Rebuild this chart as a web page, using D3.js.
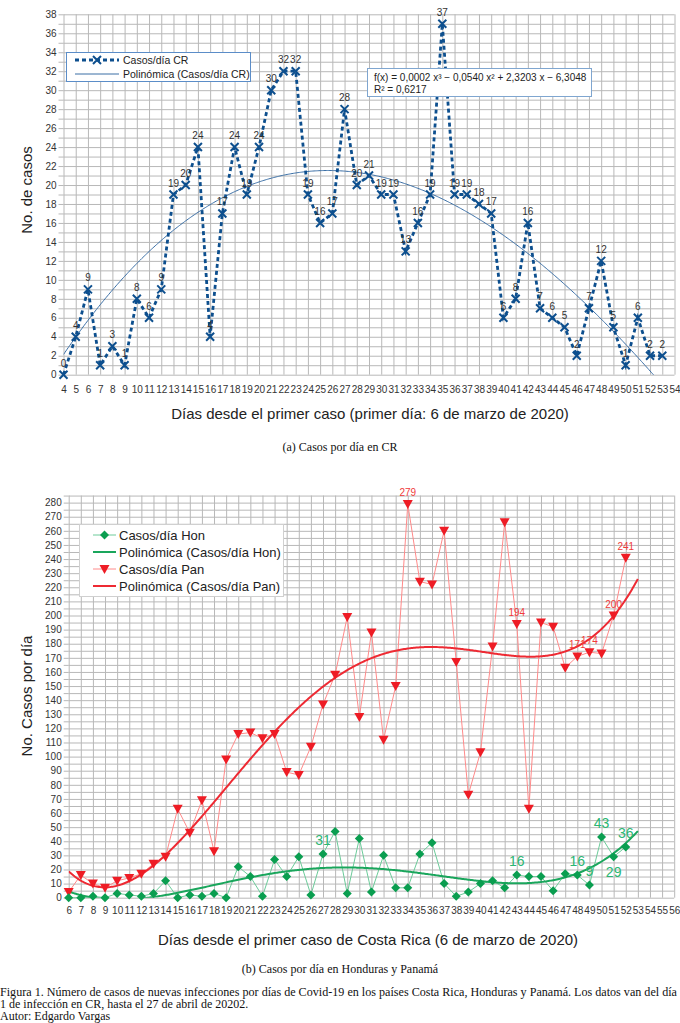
<!DOCTYPE html>
<html><head><meta charset="utf-8">
<script src="https://cdn.jsdelivr.net/npm/d3@7"></script>
<style>
body{margin:0;background:#fff}
svg{display:block}
text{font-family:"Liberation Sans",Arial,sans-serif}
.serif{font-family:"Liberation Serif","Times New Roman",serif}
</style>
</head><body>
<svg id="c" width="680" height="1023"></svg>
<script>
// ---------------- DATA ----------------
const crDays = [4,5,6,7,8,9,10,11,12,13,14,15,16,17,18,19,20,21,22,23,24,25,26,27,28,29,30,31,32,33,34,35,36,37,38,39,40,41,42,43,44,45,46,47,48,49,50,51,52,53];
const crCases = [0,4,9,1,3,1,8,6,9,19,20,24,4,17,24,19,24,30,32,32,19,16,17,28,20,21,19,19,13,16,19,37,19,19,18,17,6,8,16,7,6,5,2,7,12,5,1,6,2,2];
const crXTicks = [4,5,6,7,8,9,10,11,12,13,14,15,16,17,18,19,20,21,22,23,24,25,26,27,28,29,30,31,32,33,34,35,36,37,38,39,40,41,42,43,44,45,46,47,48,49,50,51,52,53,54];
const crYTicks = [0,2,4,6,8,10,12,14,16,18,20,22,24,26,28,30,32,34,36,38];
// trend coefficients (constant, x, x², x³)
const crTrendCoef = [-6.3048, 2.3203, -0.0540, 0.000228];
const crEquation = "f(x) = 0,0002 x³ − 0,0540 x² + 2,3203 x − 6,3048";
const crR2 = "R² = 0,6217";

const hpDays = [6,7,8,9,10,11,12,13,14,15,16,17,18,19,20,21,22,23,24,25,26,27,28,29,30,31,32,33,34,35,36,37,38,39,40,41,42,43,44,45,46,47,48,49,50,51,52];
const honCases = [0,0,1,0,3,2,1,3,12,0,2,1,3,0,22,15,1,27,15,29,2,31,47,3,42,4,30,7,7,31,39,10,1,4,10,12,7,16,15,15,5,17,16,9,43,29,36];
const panCases = [4,16,10,7,12,14,17,24,29,63,46,69,33,98,116,117,113,116,89,87,107,137,158,199,128,188,112,150,279,224,222,260,167,73,103,178,266,194,63,195,192,163,171,174,173,200,241];
const honLabelDays = [27,43,48,49,50,51,52];
const panLabelDays = [34,43,48,49,51,52];
const hpXTicks = [6,7,8,9,10,11,12,13,14,15,16,17,18,19,20,21,22,23,24,25,26,27,28,29,30,31,32,33,34,35,36,37,38,39,40,41,42,43,44,45,46,47,48,49,50,51,52,53,54,55,56];
const hpYTicks = [0,10,20,30,40,50,60,70,80,90,100,110,120,130,140,150,160,170,180,190,200,210,220,230,240,250,260,270,280];

const seriesNames = ["Casos/día CR","Polinómica (Casos/día CR)","Casos/día Hon","Polinómica (Casos/día Hon)","Casos/día Pan","Polinómica (Casos/día Pan)"];

// --------------- helpers ---------------
function polyfit(xs, ys, deg){
  const mx = d3.mean(xs), sx = (d3.max(xs)-d3.min(xs))/2;
  const n = deg+1;
  const A = Array.from({length:n},()=>new Array(n).fill(0));
  const b = new Array(n).fill(0);
  xs.forEach((x,i)=>{
    const t=(x-mx)/sx; const p=[]; for(let k=0;k<n;k++) p.push(Math.pow(t,k));
    for(let r=0;r<n;r++){ b[r]+=p[r]*ys[i]; for(let c=0;c<n;c++) A[r][c]+=p[r]*p[c]; }
  });
  for(let i=0;i<n;i++){
    let m=i; for(let r=i+1;r<n;r++) if(Math.abs(A[r][i])>Math.abs(A[m][i])) m=r;
    [A[i],A[m]]=[A[m],A[i]]; [b[i],b[m]]=[b[m],b[i]];
    for(let r=i+1;r<n;r++){ const f=A[r][i]/A[i][i]; for(let c=i;c<n;c++) A[r][c]-=f*A[i][c]; b[r]-=f*b[i]; }
  }
  const co=new Array(n).fill(0);
  for(let i=n-1;i>=0;i--){ let s=b[i]; for(let c=i+1;c<n;c++) s-=A[i][c]*co[c]; co[i]=s/A[i][i]; }
  return x=>{ const t=(x-mx)/sx; let v=0; for(let k=n-1;k>=0;k--) v=v*t+co[k]; return v; };
}
function polyEval(co){ return x=>{ let v=0; for(let k=co.length-1;k>=0;k--) v=v*x+co[k]; return v; }; }
function sampleRange(a,b,step){ const out=[]; for(let x=a;x<=b+1e-9;x+=step) out.push(x); return out; }

const svg = d3.select("#c");
svg.append("rect").attr("width",680).attr("height",1023).attr("fill","#fff");
const gridColor = "#b8b8b8";
const tickTextColor = "#333";

// ================= CHART A =================
const xA = d3.scaleLinear([4,54],[63.5,674.5]);
const yA = d3.scaleLinear([0,38],[374.7,14.3]);
const gA = svg.append("g");
const defs = svg.append("defs");
defs.append("clipPath").attr("id","clipA").append("rect")
  .attr("x",xA(4)).attr("y",yA(38)).attr("width",xA(54)-xA(4)).attr("height",yA(0)-yA(38));

gA.append("g").attr("transform",`translate(0,${yA(0)})`)
  .call(d3.axisBottom(xA).tickValues(crXTicks).tickSize(-(yA(0)-yA(38))).tickFormat(""))
  .call(g=>g.select(".domain").remove())
  .call(g=>g.selectAll("line").attr("stroke",gridColor));
const yMinor = d3.range(0,39,1);
gA.append("g").attr("transform",`translate(${xA(4)},0)`)
  .call(d3.axisLeft(yA).tickValues(yMinor).tickSize(-(xA(54)-xA(4))).tickFormat(""))
  .call(g=>g.select(".domain").remove())
  .call(g=>g.selectAll("line").attr("stroke",gridColor));
gA.append("g").attr("transform",`translate(${xA(4)},0)`)
  .call(d3.axisLeft(yA).tickValues(yMinor).tickSize(5).tickFormat(""))
  .call(g=>g.select(".domain").remove())
  .call(g=>g.selectAll("line").attr("stroke",gridColor));
gA.append("g").attr("transform",`translate(${xA(4)},0)`)
  .call(d3.axisLeft(yA).tickValues(crYTicks).tickSize(0).tickPadding(7))
  .call(g=>g.select(".domain").remove())
  .call(g=>g.selectAll("text").attr("fill",tickTextColor).style("font-size","10px").style("font-family","Liberation Sans"));
gA.append("g").attr("transform",`translate(0,${yA(0)})`)
  .call(d3.axisBottom(xA).tickValues(crXTicks).tickSize(0).tickPadding(11))
  .call(g=>g.select(".domain").remove())
  .call(g=>g.selectAll("text").attr("fill",tickTextColor).style("font-size","10px").style("font-family","Liberation Sans"));

// trend
const fitA = polyEval(crTrendCoef);
const trendDaysA = sampleRange(4,53,0.1);
gA.append("path").attr("clip-path","url(#clipA)")
  .attr("d", d3.line().x(d=>xA(d)).y(d=>yA(fitA(d)))(trendDaysA))
  .attr("fill","none").attr("stroke","#3a6ea5").attr("stroke-width",1);

// series
const blue = "#0d4f8e";
gA.append("path")
  .attr("d", d3.line().x((d,i)=>xA(crDays[i])).y(d=>yA(d))(crCases))
  .attr("fill","none").attr("stroke",blue).attr("stroke-width",2.8).attr("stroke-dasharray","4,3");
const xMark = "M-4,-4L4,4M-4,4L4,-4";
gA.selectAll(".mk").data(crCases).join("path")
  .attr("transform",(d,i)=>`translate(${xA(crDays[i])},${yA(d)})`)
  .attr("d",xMark).attr("stroke",blue).attr("stroke-width",2).attr("fill","none");
gA.selectAll(".lb").data(crCases).join("text")
  .attr("x",(d,i)=>xA(crDays[i])).attr("y",d=>yA(d)-8)
  .attr("text-anchor","middle").attr("fill","#333").style("font-size","10px")
  .text(d=>d);

// legend A
const lgA = gA.append("g");
lgA.append("rect").attr("x",66.5).attr("y",52.5).attr("width",184).attr("height",29)
  .attr("fill","#fff").attr("stroke","#5b8dc8").attr("stroke-width",1);
lgA.append("line").attr("x1",75).attr("x2",119).attr("y1",60).attr("y2",60)
  .attr("stroke",blue).attr("stroke-width",2.8).attr("stroke-dasharray","4,3");
lgA.append("path").attr("transform","translate(97,60)").attr("d",xMark).attr("stroke",blue).attr("stroke-width",2).attr("fill","none");
lgA.append("line").attr("x1",75).attr("x2",119).attr("y1",74).attr("y2",74)
  .attr("stroke","#3a6ea5").attr("stroke-width",1);
lgA.append("text").attr("x",123).attr("y",64).style("font-size","10.5px").attr("fill","#222").text(seriesNames[0]);
lgA.append("text").attr("x",123).attr("y",78).style("font-size","10.5px").attr("fill","#222").text(seriesNames[1]);

// equation box
const eq = gA.append("g");
eq.append("rect").attr("x",367.5).attr("y",68.5).attr("width",224).attr("height",28)
  .attr("fill","#fff").attr("stroke","#7fa6d0").attr("stroke-width",1);
eq.append("text").attr("x",374).attr("y",81).style("font-size","10px").attr("fill","#222").text(crEquation);
eq.append("text").attr("x",374).attr("y",93).style("font-size","10px").attr("fill","#222").text(crR2);

svg.append("text").attr("transform","translate(32,190) rotate(-90)").attr("text-anchor","middle")
  .style("font-size","15px").attr("fill","#222").text("No. de casos");
svg.append("text").attr("x",370).attr("y",419).attr("text-anchor","middle")
  .style("font-size","15px").attr("fill","#222").text("Días desde el primer caso (primer día: 6 de marzo de 2020)");
svg.append("text").attr("class","serif").attr("x",340).attr("y",451).attr("text-anchor","middle")
  .style("font-size","12px").attr("fill","#111").text("(a) Casos por día en CR");

// ================= CHART B =================
const xB = d3.scaleLinear([6,56],[68.7,674.2]);
const yB = d3.scaleLinear([0,285],[897.7,897.7-285*1.411]);
const gB = svg.append("g");
defs.append("clipPath").attr("id","clipB").append("rect")
  .attr("x",xB(6)).attr("y",yB(285)).attr("width",xB(56)-xB(6)).attr("height",yB(0)-yB(285));

gB.append("g").attr("transform",`translate(0,${yB(0)})`)
  .call(d3.axisBottom(xB).tickValues(hpXTicks).tickSize(-(yB(0)-yB(285))).tickFormat(""))
  .call(g=>g.select(".domain").remove())
  .call(g=>g.selectAll("line").attr("stroke",gridColor));
const yMinorB = d3.range(0,286,5);
gB.append("g").attr("transform",`translate(${xB(6)},0)`)
  .call(d3.axisLeft(yB).tickValues(yMinorB).tickSize(-(xB(56)-xB(6))).tickFormat(""))
  .call(g=>g.select(".domain").remove())
  .call(g=>g.selectAll("line").attr("stroke",gridColor));
gB.append("g").attr("transform",`translate(${xB(6)},0)`)
  .call(d3.axisLeft(yB).tickValues(yMinorB).tickSize(5).tickFormat(""))
  .call(g=>g.select(".domain").remove())
  .call(g=>g.selectAll("line").attr("stroke",gridColor));
gB.append("g").attr("transform",`translate(${xB(6)},0)`)
  .call(d3.axisLeft(yB).tickValues(hpYTicks).tickSize(0).tickPadding(7))
  .call(g=>g.select(".domain").remove())
  .call(g=>g.selectAll("text").attr("fill",tickTextColor).style("font-size","10px").style("font-family","Liberation Sans"));
gB.append("g").attr("transform",`translate(0,${yB(0)})`)
  .call(d3.axisBottom(xB).tickValues(hpXTicks).tickSize(0).tickPadding(9))
  .call(g=>g.select(".domain").remove())
  .call(g=>g.selectAll("text").attr("fill",tickTextColor).style("font-size","10px").style("font-family","Liberation Sans"));

const panLine="#ff8a8a", panMark="#ee1c25", panTrend="#ee2a33", panLabel="#f03a3a";
const honLine="#6ccb9a", honMark="#0a9e50", honTrend="#1aa65c", honLabel="#2bb673";

const fitPan = polyfit(hpDays, panCases, 4);
const fitHon = polyfit(hpDays, honCases, 4);
const trendDaysB = sampleRange(6,53,0.1);
gB.append("path").attr("d", d3.line().x((d,i)=>xB(hpDays[i])).y(d=>yB(d))(panCases))
  .attr("fill","none").attr("stroke",panLine).attr("stroke-width",1);
gB.append("path").attr("d", d3.line().x((d,i)=>xB(hpDays[i])).y(d=>yB(d))(honCases))
  .attr("fill","none").attr("stroke",honLine).attr("stroke-width",1);
gB.append("path").attr("clip-path","url(#clipB)")
  .attr("d", d3.line().x(d=>xB(d)).y(d=>yB(fitPan(d)))(trendDaysB))
  .attr("fill","none").attr("stroke",panTrend).attr("stroke-width",2);
gB.append("path").attr("clip-path","url(#clipB)")
  .attr("d", d3.line().x(d=>xB(d)).y(d=>yB(fitHon(d)))(trendDaysB))
  .attr("fill","none").attr("stroke",honTrend).attr("stroke-width",2);

const tri = "M-5,-4L5,-4L0,5Z";
const dia = "M0,-4.5L4.5,0L0,4.5L-4.5,0Z";
gB.selectAll(".pm").data(panCases).join("path")
  .attr("transform",(d,i)=>`translate(${xB(hpDays[i])},${yB(d)})`)
  .attr("d",tri).attr("fill",panMark);
gB.selectAll(".hm").data(honCases).join("path")
  .attr("transform",(d,i)=>`translate(${xB(hpDays[i])},${yB(d)})`)
  .attr("d",dia).attr("fill",honMark);

const honLabelBelow = {51:true};
honLabelDays.forEach(day=>{
  const v = honCases[hpDays.indexOf(day)];
  gB.append("text").attr("x",xB(day)).attr("y",yB(v)+(honLabelBelow[day]?20:-9))
    .attr("text-anchor","middle").style("font-size","14px").attr("fill",honLabel).text(v);
});
panLabelDays.forEach(day=>{
  const v = panCases[hpDays.indexOf(day)];
  gB.append("text").attr("x",xB(day)).attr("y",yB(v)-8)
    .attr("text-anchor","middle").style("font-size","10px").attr("fill",panLabel).text(v);
});

const lgB = gB.append("g");
lgB.append("rect").attr("x",79.5).attr("y",524.5).attr("width",204).attr("height",72)
  .attr("fill","#fff").attr("stroke","#d0d0d0").attr("stroke-width",1);
const lgY=[535,552,569,586];
lgB.append("line").attr("x1",93).attr("x2",116).attr("y1",lgY[0]).attr("y2",lgY[0]).attr("stroke",honLine).attr("stroke-width",1);
lgB.append("path").attr("transform",`translate(104.5,${lgY[0]})`).attr("d",dia).attr("fill",honMark);
lgB.append("line").attr("x1",93).attr("x2",116).attr("y1",lgY[1]).attr("y2",lgY[1]).attr("stroke",honTrend).attr("stroke-width",2);
lgB.append("line").attr("x1",93).attr("x2",116).attr("y1",lgY[2]).attr("y2",lgY[2]).attr("stroke",panLine).attr("stroke-width",1);
lgB.append("path").attr("transform",`translate(104.5,${lgY[2]})`).attr("d",tri).attr("fill",panMark);
lgB.append("line").attr("x1",93).attr("x2",116).attr("y1",lgY[3]).attr("y2",lgY[3]).attr("stroke",panTrend).attr("stroke-width",2);
[2,3,4,5].forEach((k,i)=>{
  lgB.append("text").attr("x",119).attr("y",lgY[i]+4.5).style("font-size","13px").attr("fill","#222").text(seriesNames[k]);
});

svg.append("text").attr("transform","translate(32,696) rotate(-90)").attr("text-anchor","middle")
  .style("font-size","15px").attr("fill","#222").text("No. Casos por día");
svg.append("text").attr("x",368).attr("y",945).attr("text-anchor","middle")
  .style("font-size","15px").attr("fill","#222").text("Días desde el primer caso de Costa Rica (6 de marzo de 2020)");
svg.append("text").attr("class","serif").attr("x",340).attr("y",973).attr("text-anchor","middle")
  .style("font-size","12px").attr("fill","#111").text("(b) Casos por día en Honduras y Panamá");

const cap = svg.append("g");
cap.append("text").attr("class","serif").attr("x",0).attr("y",996).attr("textLength",677).attr("lengthAdjust","spacingAndGlyphs")
  .style("font-size","12px").attr("fill","#111")
  .text("Figura 1. Número de casos de nuevas infecciones por días de Covid-19 en los países Costa Rica, Honduras y Panamá. Los datos van del día");
cap.append("text").attr("class","serif").attr("x",0).attr("y",1008)
  .style("font-size","12px").attr("fill","#111").text("1 de infección en CR, hasta el 27 de abril de 20202.");
cap.append("text").attr("class","serif").attr("x",0).attr("y",1020)
  .style("font-size","12px").attr("fill","#111").text("Autor: Edgardo Vargas");
</script>
</body></html>
